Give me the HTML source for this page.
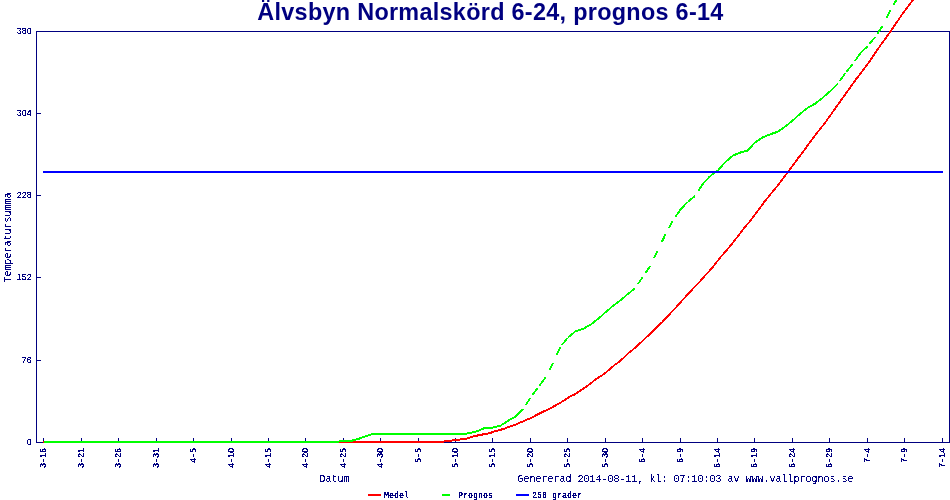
<!DOCTYPE html>
<html lang="sv"><head><meta charset="utf-8"><title>Älvsbyn Normalskörd 6-24, prognos 6-14</title>
<style>html,body{margin:0;padding:0;background:#fff;overflow:hidden}svg{display:block}</style></head>
<body>
<svg width="950" height="500" viewBox="0 0 950 500">
<defs><filter id="bw" x="-5%" y="-5%" width="110%" height="110%" color-interpolation-filters="sRGB"><feComponentTransfer><feFuncA type="discrete" tableValues="0 0 0 0 0 0 1 1 1 1 1 1 1 1 1 1 1 1 1 1"/></feComponentTransfer></filter><filter id="bs" x="-5%" y="-5%" width="110%" height="110%" color-interpolation-filters="sRGB"><feComponentTransfer><feFuncA type="discrete" tableValues="0 0 0 0 0 0 0 0 0 1 1 1 1 1 1 1 1 1 1 1"/></feComponentTransfer></filter><filter id="bl" x="-5%" y="-5%" width="110%" height="110%" color-interpolation-filters="sRGB"><feComponentTransfer><feFuncA type="discrete" tableValues="0 0 0 0 0 0 0 0 0 0 1 1 1 1 1 1 1 1 1 1"/></feComponentTransfer></filter></defs>
<rect width="950" height="500" fill="#fff"/>
<text x="257.3" y="20" font-family="'Liberation Sans',Arial,sans-serif" font-weight="bold" font-size="23.4" fill="#000080" textLength="466" lengthAdjust="spacing">Älvsbyn Normalskörd 6-24, prognos 6-14</text>
<g shape-rendering="crispEdges" fill="#000080">
<rect x="36" y="31" width="914" height="1"/>
<rect x="36" y="442" width="914" height="1"/>
<rect x="36" y="31" width="1" height="412"/>
<rect x="949" y="31" width="1" height="412"/>
<rect x="36" y="31" width="5" height="1"/>
<rect x="36" y="113" width="5" height="1"/>
<rect x="36" y="195" width="5" height="1"/>
<rect x="36" y="277" width="5" height="1"/>
<rect x="36" y="360" width="5" height="1"/>
<rect x="36" y="442" width="5" height="1"/>
<rect x="43" y="438" width="1" height="5"/>
<rect x="81" y="438" width="1" height="5"/>
<rect x="118" y="438" width="1" height="5"/>
<rect x="156" y="438" width="1" height="5"/>
<rect x="193" y="438" width="1" height="5"/>
<rect x="231" y="438" width="1" height="5"/>
<rect x="268" y="438" width="1" height="5"/>
<rect x="305" y="438" width="1" height="5"/>
<rect x="343" y="438" width="1" height="5"/>
<rect x="380" y="438" width="1" height="5"/>
<rect x="418" y="438" width="1" height="5"/>
<rect x="455" y="438" width="1" height="5"/>
<rect x="492" y="438" width="1" height="5"/>
<rect x="530" y="438" width="1" height="5"/>
<rect x="567" y="438" width="1" height="5"/>
<rect x="605" y="438" width="1" height="5"/>
<rect x="642" y="438" width="1" height="5"/>
<rect x="680" y="438" width="1" height="5"/>
<rect x="717" y="438" width="1" height="5"/>
<rect x="754" y="438" width="1" height="5"/>
<rect x="792" y="438" width="1" height="5"/>
<rect x="829" y="438" width="1" height="5"/>
<rect x="867" y="438" width="1" height="5"/>
<rect x="904" y="438" width="1" height="5"/>
<rect x="942" y="438" width="1" height="5"/>
</g>
<g fill="#000080" filter="url(#bw)">
<text x="16.65 21.65 26.65" y="34" font-family="'Liberation Sans',Arial,sans-serif" font-size="8.5">380</text>
<text x="16.65 21.65 26.65" y="116" font-family="'Liberation Sans',Arial,sans-serif" font-size="8.5">304</text>
<text x="16.65 21.65 26.65" y="198" font-family="'Liberation Sans',Arial,sans-serif" font-size="8.5">228</text>
<text x="16.65 21.65 26.65" y="280" font-family="'Liberation Sans',Arial,sans-serif" font-size="8.5">152</text>
<text x="21.65 26.65" y="363" font-family="'Liberation Sans',Arial,sans-serif" font-size="8.5">76</text>
<text x="26.65" y="445" font-family="'Liberation Sans',Arial,sans-serif" font-size="8.5">0</text>
<text transform="translate(46,467.5) rotate(-90)" x="-0.35 5.65 9.65 14.65" y="0" font-family="'Liberation Sans',Arial,sans-serif" font-size="8.5">3-16</text>
<text transform="translate(84,467.5) rotate(-90)" x="-0.35 5.65 9.65 14.65" y="0" font-family="'Liberation Sans',Arial,sans-serif" font-size="8.5">3-21</text>
<text transform="translate(121,467.5) rotate(-90)" x="-0.35 5.65 9.65 14.65" y="0" font-family="'Liberation Sans',Arial,sans-serif" font-size="8.5">3-26</text>
<text transform="translate(159,467.5) rotate(-90)" x="-0.35 5.65 9.65 14.65" y="0" font-family="'Liberation Sans',Arial,sans-serif" font-size="8.5">3-31</text>
<text transform="translate(196,462.5) rotate(-90)" x="-0.35 5.65 9.65" y="0" font-family="'Liberation Sans',Arial,sans-serif" font-size="8.5">4-5</text>
<text transform="translate(234,467.5) rotate(-90)" x="-0.35 5.65 9.65 14.65" y="0" font-family="'Liberation Sans',Arial,sans-serif" font-size="8.5">4-10</text>
<text transform="translate(271,467.5) rotate(-90)" x="-0.35 5.65 9.65 14.65" y="0" font-family="'Liberation Sans',Arial,sans-serif" font-size="8.5">4-15</text>
<text transform="translate(308,467.5) rotate(-90)" x="-0.35 5.65 9.65 14.65" y="0" font-family="'Liberation Sans',Arial,sans-serif" font-size="8.5">4-20</text>
<text transform="translate(346,467.5) rotate(-90)" x="-0.35 5.65 9.65 14.65" y="0" font-family="'Liberation Sans',Arial,sans-serif" font-size="8.5">4-25</text>
<text transform="translate(383,467.5) rotate(-90)" x="-0.35 5.65 9.65 14.65" y="0" font-family="'Liberation Sans',Arial,sans-serif" font-size="8.5">4-30</text>
<text transform="translate(421,462.5) rotate(-90)" x="-0.35 5.65 9.65" y="0" font-family="'Liberation Sans',Arial,sans-serif" font-size="8.5">5-5</text>
<text transform="translate(458,467.5) rotate(-90)" x="-0.35 5.65 9.65 14.65" y="0" font-family="'Liberation Sans',Arial,sans-serif" font-size="8.5">5-10</text>
<text transform="translate(495,467.5) rotate(-90)" x="-0.35 5.65 9.65 14.65" y="0" font-family="'Liberation Sans',Arial,sans-serif" font-size="8.5">5-15</text>
<text transform="translate(533,467.5) rotate(-90)" x="-0.35 5.65 9.65 14.65" y="0" font-family="'Liberation Sans',Arial,sans-serif" font-size="8.5">5-20</text>
<text transform="translate(570,467.5) rotate(-90)" x="-0.35 5.65 9.65 14.65" y="0" font-family="'Liberation Sans',Arial,sans-serif" font-size="8.5">5-25</text>
<text transform="translate(608,467.5) rotate(-90)" x="-0.35 5.65 9.65 14.65" y="0" font-family="'Liberation Sans',Arial,sans-serif" font-size="8.5">5-30</text>
<text transform="translate(645,462.5) rotate(-90)" x="-0.35 5.65 9.65" y="0" font-family="'Liberation Sans',Arial,sans-serif" font-size="8.5">6-4</text>
<text transform="translate(683,462.5) rotate(-90)" x="-0.35 5.65 9.65" y="0" font-family="'Liberation Sans',Arial,sans-serif" font-size="8.5">6-9</text>
<text transform="translate(720,467.5) rotate(-90)" x="-0.35 5.65 9.65 14.65" y="0" font-family="'Liberation Sans',Arial,sans-serif" font-size="8.5">6-14</text>
<text transform="translate(757,467.5) rotate(-90)" x="-0.35 5.65 9.65 14.65" y="0" font-family="'Liberation Sans',Arial,sans-serif" font-size="8.5">6-19</text>
<text transform="translate(795,467.5) rotate(-90)" x="-0.35 5.65 9.65 14.65" y="0" font-family="'Liberation Sans',Arial,sans-serif" font-size="8.5">6-24</text>
<text transform="translate(832,467.5) rotate(-90)" x="-0.35 5.65 9.65 14.65" y="0" font-family="'Liberation Sans',Arial,sans-serif" font-size="8.5">6-29</text>
<text transform="translate(870,462.5) rotate(-90)" x="-0.35 5.65 9.65" y="0" font-family="'Liberation Sans',Arial,sans-serif" font-size="8.5">7-4</text>
<text transform="translate(907,462.5) rotate(-90)" x="-0.35 5.65 9.65" y="0" font-family="'Liberation Sans',Arial,sans-serif" font-size="8.5">7-9</text>
<text transform="translate(945,467.5) rotate(-90)" x="-0.35 5.65 9.65 14.65" y="0" font-family="'Liberation Sans',Arial,sans-serif" font-size="8.5">7-14</text>
</g>
<g fill="#000080" filter="url(#bs)">
<text transform="translate(11,282.5) rotate(-90) scale(1,1)" textLength="90" font-family="'Liberation Mono',monospace" font-size="11" lengthAdjust="spacingAndGlyphs">Temperatursumma</text>
<text transform="translate(319.5,482) scale(1,1)" textLength="30" font-family="'Liberation Mono',monospace" font-size="11" lengthAdjust="spacingAndGlyphs">Datum</text>
<text transform="translate(517.5,482) scale(1,1)" textLength="336" font-family="'Liberation Mono',monospace" font-size="11" lengthAdjust="spacingAndGlyphs">Genererad 2014-08-11, kl: 07:10:03 av www.vallprognos.se</text>
</g>
<g fill="#000080" filter="url(#bl)">
<text x="384" y="498" textLength="25" font-family="'Liberation Mono',monospace" font-weight="bold" font-size="9" lengthAdjust="spacingAndGlyphs">Medel</text>
<text x="458" y="498" textLength="35" font-family="'Liberation Mono',monospace" font-weight="bold" font-size="9" lengthAdjust="spacingAndGlyphs">Prognos</text>
<text x="532" y="498" textLength="50" font-family="'Liberation Mono',monospace" font-weight="bold" font-size="9" lengthAdjust="spacingAndGlyphs">250 grader</text>
</g>
<g fill="none" stroke-width="1" shape-rendering="crispEdges">
<path d="M43.0,441.5 L440.5,441.5 L448.0,440.5 L455.5,439.5 L462.0,438.7 L467.0,438.0 L475.0,435.5 L482.0,434.1 L489.0,432.9 L495.0,430.7 L500.0,429.5 L505.0,427.9 L510.0,426.0 L515.0,424.3 L520.0,422.1 L530.0,417.9 L540.0,412.7 L550.0,408.0 L560.0,402.5 L570.0,396.1 L574.5,394.0 L588.0,385.0 L595.5,379.0 L604.0,373.5 L609.0,369.3 L614.5,364.5 L619.0,361.5 L630.0,351.3 L634.0,348.3 L644.0,339.0 L647.0,336.3 L653.5,330.1 M43.0,442.5 L440.5,442.5 L448.0,441.5 L455.5,440.5 L462.0,439.7 L467.0,439.0 L475.0,436.5 L482.0,435.1 L489.0,433.9 L495.0,431.7 L500.0,430.5 L505.0,428.9 L510.0,427.0 L515.0,425.3 L520.0,423.1 L530.0,418.9 L540.0,413.7 L550.0,409.0 L560.0,403.5 L570.0,397.1 L574.5,395.0 L588.0,386.0 L595.5,380.0 L604.0,374.5 L609.0,370.3 L614.5,365.5 L619.0,362.5 L630.0,352.3 L634.0,349.3 L644.0,340.0 L647.0,337.3 L653.5,331.1 M653.0,330.6 L661.5,322.0 M654.0,330.6 L662.5,322.0 M662.0,321.5 L668.5,315.0 M662.0,322.5 L668.5,316.0 M668.0,315.5 L684.0,298.0 L687.0,294.5 L698.0,283.0 L706.0,274.0 L712.0,267.5 L719.0,258.5 L731.0,244.5 L734.5,240.0 L744.0,227.5 L748.5,222.5 L764.5,201.0 L778.5,184.0 L787.5,172.0 L798.5,157.0 L801.0,154.0 L810.0,141.5 L816.0,133.5 L824.0,123.5 L834.0,109.5 L845.0,94.0 L855.0,80.0 L863.5,69.0 L870.0,60.0 L877.0,49.5 L890.0,31.5 L900.5,16.0 L912.0,0.5 L913.5,-1.5 M669.0,315.5 L685.0,298.0 L688.0,294.5 L699.0,283.0 L707.0,274.0 L713.0,267.5 L720.0,258.5 L732.0,244.5 L735.5,240.0 L745.0,227.5 L749.5,222.5 L765.5,201.0 L779.5,184.0 L788.5,172.0 L799.5,157.0 L802.0,154.0 L811.0,141.5 L817.0,133.5 L825.0,123.5 L835.0,109.5 L846.0,94.0 L856.0,80.0 L864.5,69.0 L871.0,60.0 L878.0,49.5 L891.0,31.5 L901.5,16.0 L913.0,0.5 L914.5,-1.5" stroke="#ff0000"/>
<path d="M43.5,441.5 L51.0,441.5 L58.5,441.5 L66.0,441.5 L73.5,441.5 L81.0,441.5 L88.4,441.5 L95.9,441.5 L103.4,441.5 L110.9,441.5 L118.4,441.5 L125.9,441.5 L133.4,441.5 L140.9,441.5 L148.4,441.5 L155.9,441.5 L163.4,441.5 L170.9,441.5 L178.3,441.5 L185.8,441.5 L193.3,441.5 L200.8,441.5 L208.3,441.5 L215.8,441.5 L223.3,441.5 L230.8,441.5 L238.3,441.5 L245.8,441.5 L253.3,441.5 L260.8,441.5 L268.2,441.5 L275.7,441.5 L283.2,441.5 L290.7,441.5 L298.2,441.5 L305.7,441.5 L313.2,441.5 L320.7,441.5 L328.2,441.5 L335.7,441.5 L343.2,440.5 L350.7,440.5 L358.1,438.5 L365.6,435.8 L373.1,433.5 L380.6,433.5 L388.1,433.5 L395.6,433.5 L403.1,433.5 L410.6,433.5 L418.1,433.5 L425.6,433.5 L433.1,433.5 L440.6,433.5 L448.0,433.5 L455.5,433.5 L463.0,433.5 L470.5,432.5 L478.0,430.5 L485.5,427.1 L493.0,427.1 L500.5,425.2 L508.0,420.3 L515.5,416.1 M43.5,442.5 L51.0,442.5 L58.5,442.5 L66.0,442.5 L73.5,442.5 L81.0,442.5 L88.4,442.5 L95.9,442.5 L103.4,442.5 L110.9,442.5 L118.4,442.5 L125.9,442.5 L133.4,442.5 L140.9,442.5 L148.4,442.5 L155.9,442.5 L163.4,442.5 L170.9,442.5 L178.3,442.5 L185.8,442.5 L193.3,442.5 L200.8,442.5 L208.3,442.5 L215.8,442.5 L223.3,442.5 L230.8,442.5 L238.3,442.5 L245.8,442.5 L253.3,442.5 L260.8,442.5 L268.2,442.5 L275.7,442.5 L283.2,442.5 L290.7,442.5 L298.2,442.5 L305.7,442.5 L313.2,442.5 L320.7,442.5 L328.2,442.5 L335.7,442.5 L343.2,441.5 L350.7,441.5 L358.1,439.5 L365.6,436.8 L373.1,434.5 L380.6,434.5 L388.1,434.5 L395.6,434.5 L403.1,434.5 L410.6,434.5 L418.1,434.5 L425.6,434.5 L433.1,434.5 L440.6,434.5 L448.0,434.5 L455.5,434.5 L463.0,434.5 L470.5,433.5 L478.0,431.5 L485.5,428.1 L493.0,428.1 L500.5,426.2 L508.0,421.3 L515.5,417.1 M515.0,416.6 L522.5,408.8 M516.0,416.6 L523.5,408.8 M524.9,405.3 L530.0,397.8 M525.9,405.3 L531.0,397.8 M531.9,395.1 L537.5,387.6 M532.9,395.1 L538.5,387.6 M539.2,385.3 L544.9,377.8 M540.2,385.3 L545.9,377.8 M548.6,370.5 L552.4,363.0 M549.6,370.5 L553.4,363.0 M556.4,354.5 L559.9,347.0 M557.4,354.5 L560.9,347.0 M561.4,345.1 L567.4,337.6 M562.4,345.1 L568.4,337.6 M567.9,337.1 L575.4,330.8 L582.9,328.5 L590.4,324.3 L597.9,318.5 L605.4,311.9 L612.9,305.5 L620.4,299.8 L627.9,293.5 L635.3,287.5 M567.9,338.1 L575.4,331.8 L582.9,329.5 L590.4,325.3 L597.9,319.5 L605.4,312.9 L612.9,306.5 L620.4,300.8 L627.9,294.5 L635.3,288.5 M637.3,284.3 L642.3,276.8 M638.3,284.3 L643.3,276.8 M644.7,273.3 L649.8,265.8 M645.7,273.3 L650.8,265.8 M653.6,258.0 L657.3,250.5 M654.6,258.0 L658.3,250.5 M661.3,242.1 L664.8,234.6 M662.3,242.1 L665.8,234.6 M668.3,228.2 L672.3,220.7 M669.3,228.2 L673.3,220.7 M674.6,217.3 L679.8,209.8 L687.3,201.7 M675.6,217.3 L680.8,209.8 L688.3,201.7 M687.8,201.2 L695.3,195.5 M687.8,202.2 L695.3,196.5 M697.6,191.5 L702.3,184.0 L709.8,175.8 M698.6,191.5 L703.3,184.0 L710.8,175.8 M710.3,175.3 L717.8,170.1 M710.3,176.3 L717.8,171.1 M717.2,170.6 L724.7,162.3 M718.2,170.6 L725.7,162.3 M725.2,161.8 L732.7,155.2 L740.2,152.1 L747.7,150.0 M725.2,162.8 L732.7,156.2 L740.2,153.1 L747.7,151.0 M747.2,150.5 L754.7,142.4 M748.2,150.5 L755.7,142.4 M755.2,141.9 L762.7,136.8 L770.2,133.8 L777.7,131.3 L785.2,126.0 L792.7,120.0 L800.2,113.3 L807.6,107.3 L815.1,103.2 L822.6,97.3 L830.1,90.7 L837.6,83.5 M755.2,142.9 L762.7,137.8 L770.2,134.8 L777.7,132.3 L785.2,127.0 L792.7,121.0 L800.2,114.3 L807.6,108.3 L815.1,104.2 L822.6,98.3 L830.1,91.7 L837.6,84.5 M839.3,81.0 L844.6,73.5 M840.3,81.0 L845.6,73.5 M846.0,71.8 L852.1,64.3 M847.0,71.8 L853.1,64.3 M854.4,61.0 L859.6,53.5 M855.4,61.0 L860.6,53.5 M860.1,53.0 L867.6,45.8 M860.1,54.0 L867.6,46.8 M868.5,44.5 L874.6,37.0 M869.5,44.5 L875.6,37.0 M877.0,33.5 L882.1,26.0 M878.0,33.5 L883.1,26.0 M885.9,18.0 L889.6,10.5 M886.9,18.0 L890.6,10.5 M892.6,5.5 L897.0,-2.0 M893.6,5.5 L898.0,-2.0" stroke="#00ff00"/>
</g>
<rect x="43" y="171" width="900" height="2" fill="#0000ff" shape-rendering="crispEdges"/>
<g shape-rendering="crispEdges">
<rect x="368" y="494" width="13" height="2" fill="#ff0000"/>
<rect x="442" y="494" width="8" height="2" fill="#00ff00"/>
<rect x="516" y="494" width="13" height="2" fill="#0000ff"/>
</g>
</svg>
</body></html>
